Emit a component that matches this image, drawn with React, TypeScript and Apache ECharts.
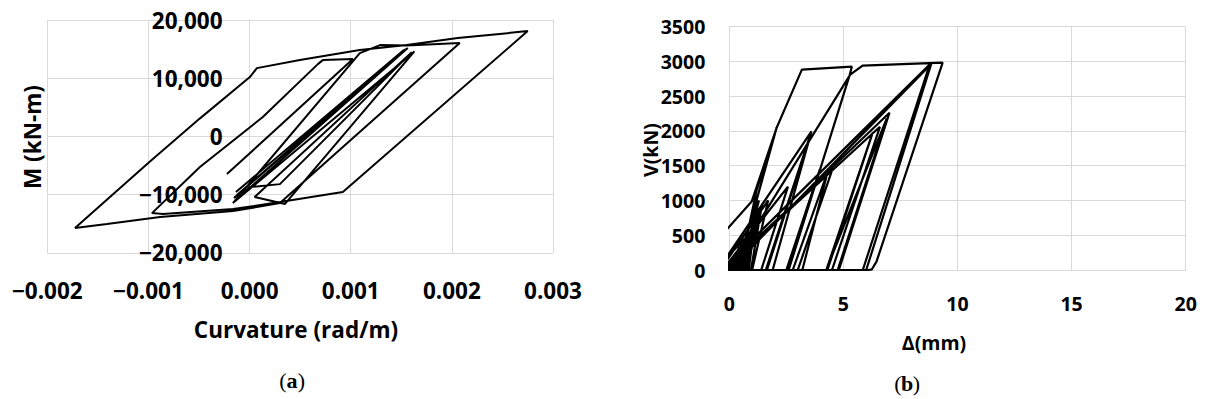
import React, { useEffect, useRef } from "react";
import * as echarts from "echarts";

// (a) Moment–curvature hysteresis (rad/m, kN-m)
const LEFT_CURVATURE = [
  -0.000135, 0.001525, -0.000125, 0.001545, -0.000155, 0.001564, -0.000135, 0.000003, 0.0003,
  0.001604, 0.00005, 0.00035, 0.00163, -0.000165, 0.00109, 0.00129, 0.001554, 0.002078, 0.0003,
  -0.000163, -0.000885, -0.00141, -0.001726, -0.000985, -0.00049, 0.000003, 0.000072, 0.000497,
  0.00109, 0.001554, 0.002058, 0.00275, 0.000922, 0.0003, -0.000163, -0.000856, -0.000965,
  -0.000491, 0.000131, 0.000675, 0.000724, 0.001022, -0.000224,
];
const LEFT_MOMENT = [
  -9570, 14830, -10090, 15000, -10600, 15170, -10940, -8710, -8200, 14480, -10400, -11600, 14600,
  -11460, 14310, 15690, 15600, 16030, -11460, -12830, -13860, -15070, -15750, -4300, 3100, 10190,
  11730, 13110, 14830, 15690, 16890, 18090, -9570, -11290, -12490, -13350, -13180, -5270, 3320,
  12420, 13110, 13280, -6480,
];

// (b) Shear–displacement (mm, kN)
const RIGHT_DISP = [
  0, 0.25, 0.08, -0.1, 0.45, 0.18, -0.15, 0.7, 0.3, 0.05, 0.95, 0.45, 0.15, 1.25, 0.65, -0.6, 0.9,
  1.45, 0.75, 0.2, 0.6, 0.35, 0.5, 1.1, 0.85, -0.4, 1.7, 1.0, 0.6, 1.4, 0.95, 0.45, 1.2, 2.07,
  0.35, 0.2, 1.3, 0.5, -1.7, 0.98, 2.07, 3.18, 5.37, 5.27, 2.6, 1.6, 3.6, 1.65, -0.5, 3.6, 1.9,
  -0.3, 2.57, 1.4, 2.5, 3.96, 2.55, -0.3, 4.54, 3.0, 2.78, 4.3, 3.2, 0, 5.3, 5.84, 9.35, 6.45,
  6.25, 6.1, -0.2, 7.02, 4.8, 4.25, 6.28, 4.3, -0.25, 6.6, 4.5, 4.25, 6.9, 4.75, -0.35, 8.78,
  5.85, 0, 8.85, 6.0, 0,
];
const RIGHT_SHEAR = [
  0, 200, 0, 0, 330, 0, 0, 450, 0, 0, 560, 0, 0, 720, 0, 0, 533, 950, 0, 0, 420, 0, 0, 640, 0,
  0, 1000, 0, 0, 880, 0, 0, 1150, 2042, 0, 0, 1000, 0, 0, 984, 2042, 2882, 2925, 2800, 0, 0,
  1993, 0, 0, 1993, 0, 0, 1200, 0, 0, 1441, 0, 0, 1470, 0, 0, 1400, 0, 0, 2810, 2940, 2983, 120,
  10, 0, 0, 2262, 0, 0, 1973, 0, 0, 2060, 0, 0, 2180, 0, 0, 2954, 0, 0, 2965, 0, 0,
];

const LEFT_X_RANGE = [-0.002, 0.003, 0.001];
const LEFT_Y_RANGE = [-20000, 20000, 10000];
const RIGHT_X_RANGE = [0, 20, 5];
const RIGHT_Y_RANGE = [0, 3500, 500];

const SANS = "'Open Sans', 'Noto Sans', sans-serif";
const SERIF = "'Liberation Serif', 'DejaVu Serif', serif";
const GRID = "#d9d9d9";

const minus = (s: string) => s.replace("-", "\u2212");

const LEFT_GRID = { left: 47.3, top: 20, width: 505.7, height: 232.8 };
const RIGHT_GRID = { left: 729.3, top: 26.7, width: 456.4, height: 243.3 };

export default function App() {
  const ref = useRef<HTMLDivElement>(null);
  useEffect(() => {
    if (!ref.current) return;
    const chart = echarts.init(ref.current, undefined, { renderer: "svg" });
    const leftData = LEFT_CURVATURE.map((c, i) => [c, LEFT_MOMENT[i]]);
    const rightData = RIGHT_DISP.map((d, i) => [d, RIGHT_SHEAR[i]]);
    // put the left y axis on curvature = 0
    const zeroOffset =
      -((0 - LEFT_X_RANGE[0]) / (LEFT_X_RANGE[1] - LEFT_X_RANGE[0])) * LEFT_GRID.width;
    const tickLabel = (size: number, margin: number, formatter: any) => ({
      fontFamily: SANS,
      fontWeight: "bold",
      fontSize: size,
      color: "#000",
      margin,
      formatter,
    });
    const centred = { align: "center", verticalAlign: "middle", textAlign: "center", textVerticalAlign: "middle" };
    // caption: normal parentheses, bold letter
    const caption = (letter: string, cx: number, y: number) => [
      {
        type: "text",
        x: cx - 9,
        y,
        style: { text: "(", font: `22px ${SERIF}`, fill: "#000", ...centred },
      },
      {
        type: "text",
        x: cx,
        y,
        style: { text: letter, font: `bold 22px ${SERIF}`, fill: "#000", ...centred },
      },
      {
        type: "text",
        x: cx + 9.5,
        y,
        style: { text: ")", font: `22px ${SERIF}`, fill: "#000", ...centred },
      },
    ];
    chart.setOption({
      animation: false,
      grid: [
        { ...LEFT_GRID, outerBoundsMode: "none", containLabel: false },
        { ...RIGHT_GRID, outerBoundsMode: "none", containLabel: false },
      ],
      xAxis: [
        {
          type: "value",
          gridIndex: 0,
          min: LEFT_X_RANGE[0],
          max: LEFT_X_RANGE[1],
          interval: LEFT_X_RANGE[2],
          axisLine: { show: false, onZero: false },
          axisTick: { show: false },
          splitLine: { show: true, lineStyle: { color: GRID, width: 1 } },
          axisLabel: tickLabel(22.5, 26, (v: number) => minus((Math.abs(v) < 1e-9 ? 0 : v).toFixed(3))),
        },
        {
          type: "value",
          gridIndex: 1,
          min: RIGHT_X_RANGE[0],
          max: RIGHT_X_RANGE[1],
          interval: RIGHT_X_RANGE[2],
          axisLine: { show: true, onZero: true, lineStyle: { color: GRID, width: 1 } },
          axisTick: { show: false },
          splitLine: { show: true, lineStyle: { color: GRID, width: 1 } },
          axisLabel: tickLabel(19.5, 23, (v: number) => String(v)),
        },
      ],
      yAxis: [
        {
          type: "value",
          gridIndex: 0,
          position: "left",
          offset: zeroOffset,
          min: LEFT_Y_RANGE[0],
          max: LEFT_Y_RANGE[1],
          interval: LEFT_Y_RANGE[2],
          axisLine: { show: true, onZero: false, lineStyle: { color: GRID, width: 1 } },
          axisTick: { show: false },
          splitLine: { show: true, lineStyle: { color: GRID, width: 1 } },
          axisLabel: tickLabel(22.5, 27, (v: number) =>
            minus(Math.round(v).toLocaleString("en-US"))
          ),
        },
        {
          type: "value",
          gridIndex: 1,
          min: RIGHT_Y_RANGE[0],
          max: RIGHT_Y_RANGE[1],
          interval: RIGHT_Y_RANGE[2],
          axisLine: { show: true, onZero: true, lineStyle: { color: GRID, width: 1 } },
          axisTick: { show: false },
          splitLine: { show: true, lineStyle: { color: GRID, width: 1 } },
          axisLabel: tickLabel(19.5, 24, (v: number) => String(v)),
        },
      ],
      series: [
        {
          type: "line",
          xAxisIndex: 0,
          yAxisIndex: 0,
          data: leftData,
          showSymbol: false,
          symbol: "none",
          clip: true,
          lineStyle: { color: "#000", width: 2 },
        },
        {
          type: "line",
          xAxisIndex: 1,
          yAxisIndex: 1,
          data: rightData,
          showSymbol: false,
          symbol: "none",
          clip: true,
          lineStyle: { color: "#000", width: 2.2 },
        },
      ],
      graphic: [
        {
          type: "text",
          x: 32,
          y: 137,
          rotation: Math.PI / 2,
          style: { text: "M (kN-m)", font: `bold 22.5px ${SANS}`, fill: "#000", ...centred },
        },
        {
          type: "text",
          x: 296,
          y: 329,
          style: { text: "Curvature (rad/m)", font: `bold 22.5px ${SANS}`, fill: "#000", ...centred },
        },
        {
          type: "text",
          x: 650,
          y: 150,
          rotation: Math.PI / 2,
          style: { text: "V(kN)", font: `bold 19.5px ${SANS}`, fill: "#000", ...centred },
        },
        {
          type: "text",
          x: 934,
          y: 342,
          style: { text: "\u0394(mm)", font: `bold 19.5px ${SANS}`, fill: "#000", ...centred },
        },
        ...caption("a", 292, 380),
        ...caption("b", 907, 383),
      ],
    });
    return () => chart.dispose();
  }, []);
  return (
    <div
      ref={ref}
      style={{ position: "fixed", left: 0, top: 0, width: 1205, height: 399, background: "#fff" }}
    />
  );
}
